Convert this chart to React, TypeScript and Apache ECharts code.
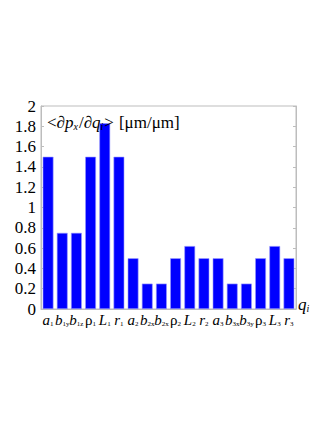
import React, { useEffect, useRef } from "react";
import * as echarts from "echarts";

const categories = ["a|1", "b|1y", "b|1z", "ρ|1", "L|1", "r|1", "a|2", "b|2x", "b|2x", "ρ|2", "L|2", "r|2", "a|3", "b|3x", "b|3y", "ρ|3", "L|3", "r|3"];
const values = [1.5, 0.75, 0.75, 1.5, 1.83, 1.5, 0.5, 0.25, 0.25, 0.5, 0.62, 0.5, 0.5, 0.25, 0.25, 0.5, 0.62, 0.5];
const yTicks = [0, 0.2, 0.4, 0.6, 0.8, 1, 1.2, 1.4, 1.6, 1.8, 2];

const SERIF = "'Liberation Serif', 'DejaVu Serif', serif";

export default function App() {
  const ref = useRef<HTMLDivElement>(null);
  useEffect(() => {
    if (!ref.current) return;
    const chart = echarts.init(ref.current, null, { renderer: "svg" });
    const keys = categories.map((c, i) => i + ":" + c);
    chart.setOption({
      animation: false,
      backgroundColor: "#ffffff",
      grid: { left: 41, top: 106, right: 31, bottom: 114, show: true, borderColor: "#bdbdbd", borderWidth: 1 },
      title: {
        left: 42,
        top: 107,
        text: "{n|<}{m|∂p}{s|x}{n|/}{m|∂q}{s|i}{n|>} {n|[μm/μm]}",
        textStyle: {
          fontWeight: "normal",
          rich: {
            n: { fontFamily: SERIF, fontSize: 17, fontWeight: "normal", color: "#000", lineHeight: 19, verticalAlign: "bottom" },
            m: { fontFamily: SERIF, fontSize: 17, fontWeight: "normal", fontStyle: "italic", color: "#000", lineHeight: 19, verticalAlign: "bottom" },
            s: { fontFamily: SERIF, fontSize: 10, fontWeight: "normal", fontStyle: "italic", color: "#000", lineHeight: 15, verticalAlign: "bottom", padding: [0, 1, 0, 0] },
          },
        },
      },
      xAxis: [
        {
          type: "category",
          data: keys,
          boundaryGap: true,
          axisLine: { show: true, lineStyle: { color: "#bdbdbd" } },
          axisTick: { show: false },
          name: "{m|q}{s|i}",
          nameLocation: "end",
          nameGap: 2,
          nameTextStyle: {
            rich: {
              m: { fontFamily: SERIF, fontSize: 17, fontStyle: "italic", color: "#000", lineHeight: 18, verticalAlign: "bottom" },
              s: { fontFamily: SERIF, fontSize: 10, fontStyle: "italic", color: "#000", lineHeight: 12, verticalAlign: "bottom" },
            },
            verticalAlign: "middle",
            padding: [0, 0, 10, 0],
          },
          axisLabel: {
            interval: 0,
            hideOverlap: false,
            margin: 1,
            formatter: (v: string) => {
              const raw = v.split(":")[1];
              const [main, sub] = raw.split("|");
              const st = main === "ρ" ? "r" : "m";
              return `{${st}|${main}}{s|${sub}}`;
            },
            rich: {
              m: { fontFamily: SERIF, fontSize: 15, fontStyle: "italic", color: "#000", lineHeight: 17, verticalAlign: "bottom" },
              r: { fontFamily: SERIF, fontSize: 15, color: "#000", lineHeight: 17, verticalAlign: "bottom" },
              s: { fontFamily: SERIF, fontSize: 7, color: "#000", lineHeight: 12, verticalAlign: "bottom" },
            },
          },
          splitLine: { show: false },
        },
      ],
      yAxis: [
        {
          type: "value",
          min: 0,
          max: 2,
          interval: 0.2,
          axisLine: { show: true, lineStyle: { color: "#bdbdbd" } },
          axisTick: { show: true, inside: true, length: 3, lineStyle: { color: "#bdbdbd" } },
          splitLine: { show: false },
          axisLabel: {
            margin: 5,
            fontFamily: SERIF,
            fontSize: 17,
            color: "#000",
            formatter: (v: number) => {
              const r = Math.round(v * 10) / 10;
              return yTicks.includes(r) ? String(r) : "";
            },
          },
        },
        {
          type: "value",
          position: "right",
          min: 0,
          max: 2,
          interval: 0.2,
          axisLine: { show: true, lineStyle: { color: "#bdbdbd" } },
          axisTick: { show: true, inside: true, length: 3, lineStyle: { color: "#bdbdbd" } },
          axisLabel: { show: false },
          splitLine: { show: false },
        },
      ],
      series: [
        {
          type: "bar",
          data: values,
          barCategoryGap: "24%",
          itemStyle: { color: "#0000ff", borderColor: "#9999ff", borderWidth: 0.6 },
        },
      ],
    });
    return () => chart.dispose();
  }, []);
  return <div ref={ref} style={{ position: "fixed", left: 0, top: 0, width: 327, height: 423 }} />;
}
